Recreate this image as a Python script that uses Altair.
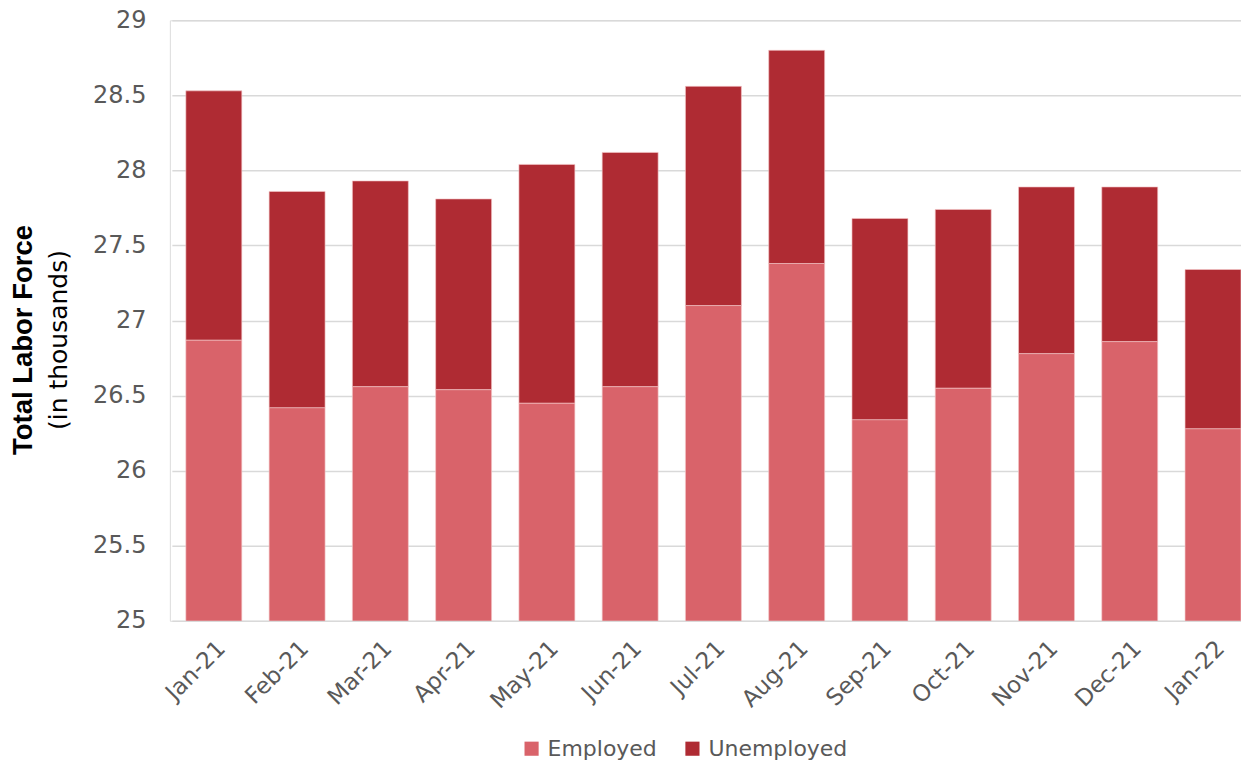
import altair as alt
import pandas as pd

months = ["Jan-21", "Feb-21", "Mar-21", "Apr-21", "May-21", "Jun-21", "Jul-21",
          "Aug-21", "Sep-21", "Oct-21", "Nov-21", "Dec-21", "Jan-22"]
employed = [26.87, 26.42, 26.56, 26.54, 26.45, 26.56, 27.10, 27.38, 26.34, 26.55, 26.78, 26.86, 26.28]
total = [28.53, 27.86, 27.93, 27.81, 28.04, 28.12, 28.56, 28.80, 27.68, 27.74, 27.89, 27.89, 27.34]
unemployed = [round(t - e, 3) for t, e in zip(total, employed)]
series = ["Employed", "Unemployed"]
colors = ["#D9636A", "#AF2B33"]
y_ticks = [25, 25.5, 26, 26.5, 27, 27.5, 28, 28.5, 29]

rows = []
for m, e, u in zip(months, employed, unemployed):
    rows.append({"Month": m, "Series": "Employed", "Value": e, "ord": 0})
    rows.append({"Month": m, "Series": "Unemployed", "Value": u, "ord": 1})
df = pd.DataFrame(rows)

FONT = "DejaVu Sans"
GRAY = "#595959"

bars = alt.Chart(df).mark_bar(clip=True, stroke="#F4C6C8", strokeWidth=0.8, strokeOpacity=0.8).encode(
    x=alt.X("Month:N", sort=months, title=None,
            scale=alt.Scale(paddingInner=0.328, paddingOuter=0.168, range=[2, 1086]),
            axis=alt.Axis(labelAngle=-45, labelFontSize=23, labelColor=GRAY, labelFont=FONT,
                          ticks=False, domain=False, labelPadding=16, grid=False)),
    y=alt.Y("sum(Value):Q", stack="zero", title=None,
            scale=alt.Scale(domain=[25, 29], zero=False, nice=False),
            axis=alt.Axis(values=y_ticks, labelFontSize=24, labelColor=GRAY, labelFont=FONT,
                          ticks=False, domain=False, labelPadding=24,
                          gridColor="#D9D9D9", gridWidth=1.5, labelExpr="datum.value")),
    color=alt.Color("Series:N", sort=series,
                    scale=alt.Scale(domain=series, range=colors),
                    legend=alt.Legend(title=None, orient="none", direction="horizontal",
                                      legendX=351, legendY=718, labelFontSize=22,
                                      labelColor=GRAY, labelFont=FONT, symbolType="square",
                                      symbolSize=200, symbolStrokeWidth=0, columnPadding=24,
                                      labelOffset=5)),
    order=alt.Order("ord:Q"),
)

tdf = pd.DataFrame({"t1": ["Total Labor Force"], "t2": ["(in thousands)"]})
title1 = alt.Chart(tdf).mark_text(angle=270, fontSize=27.5, fontWeight="bold", font="Liberation Sans",
                                  color="#000000", baseline="middle", align="center").encode(
    x=alt.value(-146), y=alt.value(320), text="t1:N")
title2 = alt.Chart(tdf).mark_text(angle=270, fontSize=25, font=FONT,
                                  color="#000000", baseline="middle", align="center").encode(
    x=alt.value(-111), y=alt.value(320), text="t2:N")

chart = alt.layer(bars, title1, title2).properties(
    width=1072, height=601,
    autosize=alt.AutoSizeParams(type="none"),
    padding={"left": 162, "top": 12, "right": 0, "bottom": 141},
).configure_view(stroke=None).configure(background="#ffffff")

chart.save("out.html", embed_options={"renderer": "svg", "actions": False})
